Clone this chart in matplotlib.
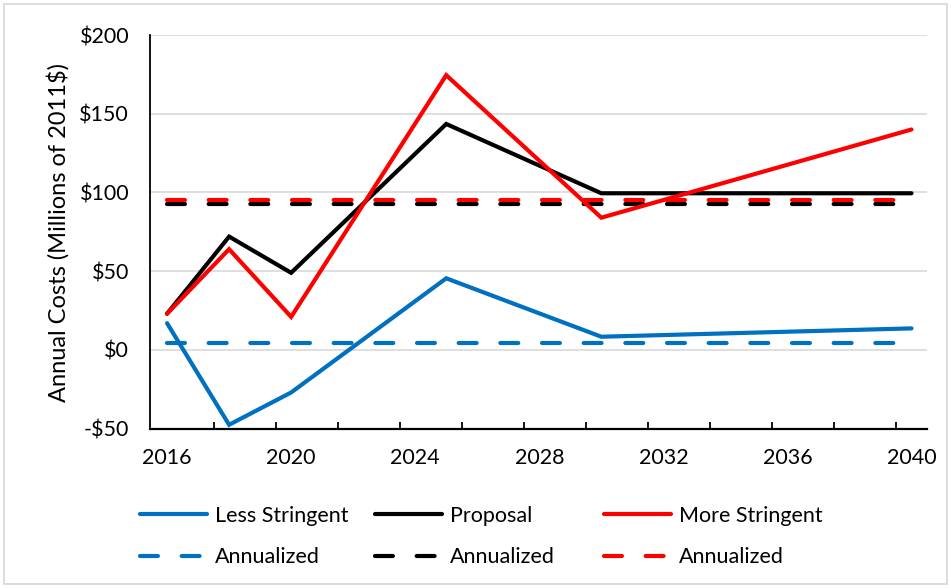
import matplotlib.pyplot as plt
from matplotlib.patches import Rectangle
from matplotlib.lines import Line2D

plt.rcParams['font.family'] = ['Lato', 'DejaVu Sans']

years = [2016, 2018, 2020, 2025, 2030, 2040]
less_stringent = [17, -47.5, -27, 45.5, 8.4, 13.7]
proposal = [23, 72, 49, 143.5, 99.5, 99.5]
more_stringent = [23, 64, 21, 174.5, 84, 140]

# annualized values (flat lines across the period)
ann_years = [2016, 2040]
ann_less = 4.6
ann_proposal = 93
ann_more = 95.5

series_labels = ['Less Stringent', 'Proposal', 'More Stringent']
colors = ['#0070C0', '#000000', '#FF0000']

fig = plt.figure(figsize=(9.51, 5.88), dpi=100)
ax = fig.add_axes([150/951, 1-428.7/588, (927-150)/951, (428.7-35)/588])

lw = 3.0
dash = (4.3, 5.7)
annual = [ann_less, ann_proposal, ann_more]
for i, vals in enumerate([less_stringent, proposal, more_stringent]):
    ax.plot(years, vals, color=colors[i], lw=lw, solid_capstyle='round',
            solid_joinstyle='miter', zorder=3)
for i in [0, 1, 2]:
    ax.plot(ann_years, [annual[i]] * 2, color=colors[i], lw=lw,
            linestyle=(0, dash), dash_capstyle='round', zorder=2)

fs = 15.5
ax.set_xlim(2015.45, 2040.5)
ax.set_ylim(-50, 200)
ax.set_yticks([-50, 0, 50, 100, 150, 200])
ax.set_yticklabels(['-$50', '$0', '$50', '$100', '$150', '$200'])
ax.set_xticks([2016, 2020, 2024, 2028, 2032, 2036, 2040])
ax.set_xticks([2017.5 + 2 * k for k in range(12)], minor=True)
ax.tick_params(axis='y', length=0, pad=15, labelsize=fs)
ax.tick_params(axis='x', which='major', length=0, pad=14, labelsize=fs)
ax.tick_params(axis='x', which='minor', direction='in', length=5, width=1.3)
ax.grid(axis='y', color='#D9D9D9', lw=1.2, zorder=0)
ax.set_axisbelow(True)
for s in ['top', 'right']:
    ax.spines[s].set_visible(False)
ax.spines['left'].set_linewidth(1.3)
ax.spines['bottom'].set_linewidth(1.6)

fig.text(58/951, 1-232/588, 'Annual Costs (Millions of 2011$)', rotation=90,
         ha='center', va='center', fontsize=17)

# legend: three columns, solid on top row and annualized below
col_x = [143, 378, 607]
for i in range(3):
    h = [Line2D([], [], color=colors[i], lw=lw, solid_capstyle='round'),
         Line2D([], [], color=colors[i], lw=lw, linestyle=(0, dash),
                dash_capstyle='round')]
    leg = fig.legend(h, [series_labels[i], 'Annualized'], loc='upper left',
                     bbox_to_anchor=(col_x[i]/951 - 0.012, 1-497/588),
                     frameon=False, fontsize=fs, handlelength=3.1,
                     handletextpad=0.37, labelspacing=1.0, borderaxespad=0)

fig.patches.append(Rectangle((4/951, 4/588), 1-8/951, 1-8/588,
                             transform=fig.transFigure, fill=False,
                             edgecolor='#D9D9D9', lw=1.3))

fig.savefig('out.png', dpi=100)
